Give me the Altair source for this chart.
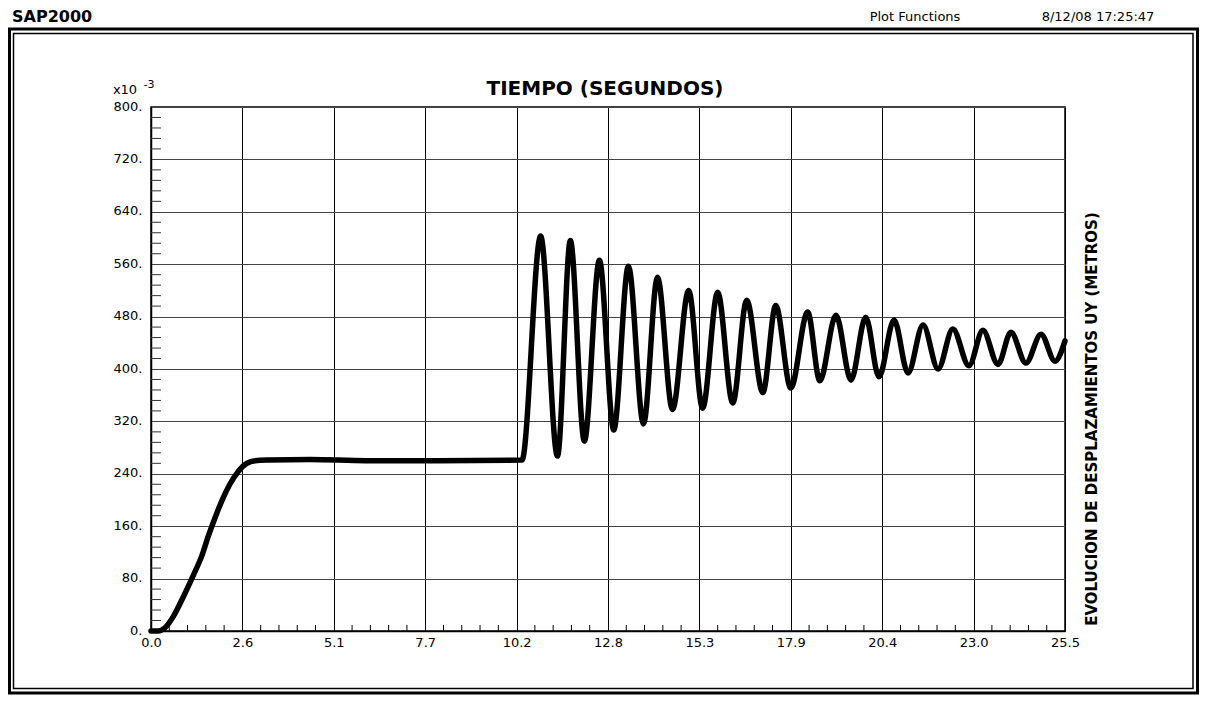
import altair as alt
import pandas as pd

# ---- data (time in s, displacement in 1e-3 m) ----
TIME_S = [0.0, 0.2, 0.39, 0.62, 0.90, 1.18, 1.42, 1.60, 1.74, 1.97, 2.20, 2.44, 2.67, 2.91,
          3.3, 4.44, 6.0, 8.0, 10.35,
          10.87, 11.34, 11.70, 12.09, 12.51, 12.91, 13.32, 13.74, 14.13, 14.55, 15.00, 15.39,
          15.81, 16.23, 16.62, 17.07, 17.43, 17.85, 18.32, 18.66, 19.11, 19.53, 19.94, 20.31,
          20.73, 21.12, 21.54, 21.96, 22.37, 22.82, 23.21, 23.63, 23.99, 24.41, 24.83, 25.22, 25.5]
DISP_E3 = [0, 0, 5, 22, 52, 85, 115, 145, 166, 198, 224, 244, 256, 260,
           261, 262, 260, 260, 261,
           603, 267, 596, 290, 566, 307, 557, 316, 540, 338, 520, 340,
           517, 348, 505, 364, 497, 371, 487, 382, 482, 383, 479, 388,
           475, 394, 467, 400, 461, 405, 459, 407, 456, 409, 453, 412, 443]

X_TICKS = [0, 2.55, 5.1, 7.65, 10.2, 12.75, 15.3, 17.85, 20.4, 22.95, 25.5]
X_TICK_LABELS = ["0.0", "2.6", "5.1", "7.7", "10.2", "12.8", "15.3", "17.9", "20.4", "23.0", "25.5"]
Y_TICKS = [0, 80, 160, 240, 320, 400, 480, 560, 640, 720, 800]
X_MINOR = [round(X_TICKS[k] + 0.51 * j, 3) for k in range(10) for j in range(1, 5)]
Y_MINOR = [v for v in range(16, 800, 16) if v % 80 != 0]

TITLE = "TIEMPO (SEGUNDOS)"
RIGHT_LABEL = "EVOLUCION DE DESPLAZAMIENTOS UY (METROS)"

W, H = 914, 524
FONT = "DejaVu Sans"

df = pd.DataFrame({"t": TIME_S, "u": DISP_E3})
one = pd.DataFrame({"k": [0]})

xscale = alt.Scale(domain=[0, 25.5], nice=False, zero=False)
yscale = alt.Scale(domain=[0, 800], nice=False)

label_expr = "[" + ",".join(f"'{s}'" for s in X_TICK_LABELS) + "][round(datum.value / 2.55)]"

xaxis = alt.Axis(
    values=X_TICKS, labelExpr=label_expr, grid=True, gridColor="black", gridWidth=1,
    gridOpacity=1, ticks=False, domain=True, domainColor="black", domainWidth=1.5,
    labelFont=FONT, labelFontSize=13, labelColor="black", labelPadding=5, title=None,
    labelFlush=False, labelOverlap=False)
yaxis = alt.Axis(
    values=Y_TICKS, labelExpr="datum.value + '.'", grid=True, gridColor="#444",
    gridWidth=1, gridOpacity=1, ticks=False, domain=True, domainColor="black", domainWidth=1.5,
    labelFont=FONT, labelFontSize=13, labelColor="black", labelPadding=9,
    labelOffset=-1, title=None, labelOverlap=False)

line = alt.Chart(df).mark_line(
    color="black", strokeWidth=5.5, interpolate="monotone", strokeJoin="round", strokeCap="round"
).encode(
    x=alt.X("t:Q", scale=xscale, axis=xaxis),
    y=alt.Y("u:Q", scale=yscale, axis=yaxis),
)

minor_x = alt.Chart(pd.DataFrame({"t": X_MINOR})).mark_rule(color="black", strokeWidth=1).encode(
    x=alt.X("t:Q", scale=xscale, axis=xaxis), y=alt.value(H), y2=alt.value(H - 6))
minor_y = alt.Chart(pd.DataFrame({"u": Y_MINOR})).mark_rule(color="#333", strokeWidth=1).encode(
    y=alt.Y("u:Q", scale=yscale, axis=yaxis), x=alt.value(0), x2=alt.value(10))

def txt(s, x, y, size, weight="normal", font=FONT, align="center", baseline="middle", angle=0):
    return alt.Chart(one).mark_text(
        text=s, font=font, fontSize=size, fontWeight=weight, align=align,
        baseline=baseline, angle=angle, color="black"
    ).encode(x=alt.value(x), y=alt.value(y))

texts = [
    txt("SAP2000", -139, -90, 16, "bold", align="left", baseline="middle"),
    txt("Plot Functions", 764, -90, 13),
    txt("8/12/08 17:25:47", 947, -90, 13),
    txt(TITLE, 454, -18, 20, "bold"),
    txt("x10", -26, -17, 13),
    txt("-3", -2, -22, 11),
    txt(RIGHT_LABEL, 941, 312, 15, "bold", angle=270),
]

outer = alt.Chart(one).mark_rect(filled=False, stroke="black", strokeWidth=3).encode(
    x=alt.value(-141.5), x2=alt.value(1046.5), y=alt.value(-78), y2=alt.value(586))
inner = alt.Chart(one).mark_rect(filled=False, stroke="black", strokeWidth=1.5).encode(
    x=alt.value(-137.5), x2=alt.value(1042), y=alt.value(-73.5), y2=alt.value(581.5))

chart = alt.layer(line, minor_x, minor_y, outer, inner, *texts).properties(
    width=W, height=H,
    autosize=alt.AutoSizeParams(type="none"),
    padding={"left": 143, "top": 99, "right": 134, "bottom": 65},
    background="white",
).configure(font=FONT).configure_view(stroke="black", strokeWidth=1.5)

chart.save("out.html", embed_options={"renderer": "svg", "actions": False})
